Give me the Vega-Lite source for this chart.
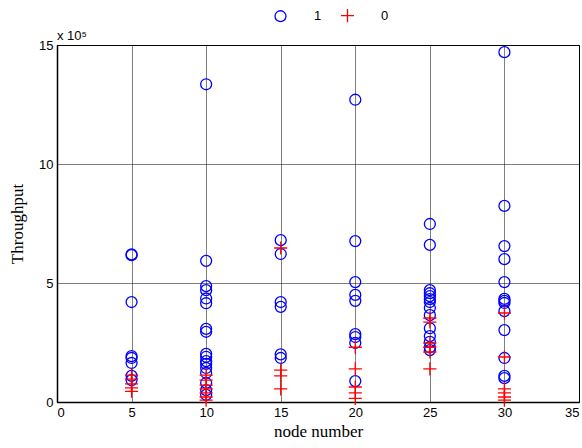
{
  "$schema": "https://vega.github.io/schema/vega-lite/v6.json",
  "width": 522,
  "height": 357,
  "autosize": {"type": "none"},
  "padding": {"left": 57, "top": 45, "right": 3, "bottom": 46},
  "background": "white",
  "title": {"text": "x 10⁵", "anchor": "start", "frame": "group", "font": "Liberation Sans", "fontSize": 13, "fontWeight": "normal", "color": "black", "offset": 1, "dy": 35},
  "config": {
    "view": {"stroke": "black", "strokeWidth": 1},
    "axis": {"domainColor": "black", "domainWidth": 1.5, "gridColor": "black", "gridDash": [1, 1], "gridOpacity": 1, "gridWidth": 1, "ticks": false, "labelFont": "Liberation Sans", "labelFontSize": 13, "labelColor": "black", "titleFont": "Liberation Serif", "titleFontSize": 17, "titleFontWeight": "normal", "titleColor": "black"}
  },
  "data": {"values": [
    {"node": 5, "t": 620000, "type": "1"},
    {"node": 5, "t": 617000, "type": "1"},
    {"node": 5, "t": 420000, "type": "1"},
    {"node": 5, "t": 193000, "type": "1"},
    {"node": 5, "t": 185000, "type": "1"},
    {"node": 5, "t": 164000, "type": "1"},
    {"node": 5, "t": 110000, "type": "1"},
    {"node": 5, "t": 92000, "type": "1"},
    {"node": 5, "t": 113000, "type": "0"},
    {"node": 5, "t": 96000, "type": "0"},
    {"node": 5, "t": 76000, "type": "0"},
    {"node": 5, "t": 59000, "type": "0"},
    {"node": 5, "t": 45000, "type": "0"},
    {"node": 10, "t": 1335000, "type": "1"},
    {"node": 10, "t": 593000, "type": "1"},
    {"node": 10, "t": 487000, "type": "1"},
    {"node": 10, "t": 470000, "type": "1"},
    {"node": 10, "t": 435000, "type": "1"},
    {"node": 10, "t": 415000, "type": "1"},
    {"node": 10, "t": 307000, "type": "1"},
    {"node": 10, "t": 295000, "type": "1"},
    {"node": 10, "t": 202000, "type": "1"},
    {"node": 10, "t": 190000, "type": "1"},
    {"node": 10, "t": 172000, "type": "1"},
    {"node": 10, "t": 160000, "type": "1"},
    {"node": 10, "t": 143000, "type": "1"},
    {"node": 10, "t": 122000, "type": "1"},
    {"node": 10, "t": 80000, "type": "1"},
    {"node": 10, "t": 50000, "type": "1"},
    {"node": 10, "t": 30000, "type": "1"},
    {"node": 10, "t": 113000, "type": "0"},
    {"node": 10, "t": 92000, "type": "0"},
    {"node": 10, "t": 71000, "type": "0"},
    {"node": 10, "t": 55000, "type": "0"},
    {"node": 10, "t": 38000, "type": "0"},
    {"node": 10, "t": 21000, "type": "0"},
    {"node": 10, "t": 8000, "type": "0"},
    {"node": 15, "t": 680000, "type": "1"},
    {"node": 15, "t": 622000, "type": "1"},
    {"node": 15, "t": 420000, "type": "1"},
    {"node": 15, "t": 400000, "type": "1"},
    {"node": 15, "t": 200000, "type": "1"},
    {"node": 15, "t": 185000, "type": "1"},
    {"node": 15, "t": 647000, "type": "0"},
    {"node": 15, "t": 134000, "type": "0"},
    {"node": 15, "t": 110000, "type": "0"},
    {"node": 15, "t": 55000, "type": "0"},
    {"node": 20, "t": 1270000, "type": "1"},
    {"node": 20, "t": 676000, "type": "1"},
    {"node": 20, "t": 504000, "type": "1"},
    {"node": 20, "t": 450000, "type": "1"},
    {"node": 20, "t": 425000, "type": "1"},
    {"node": 20, "t": 285000, "type": "1"},
    {"node": 20, "t": 273000, "type": "1"},
    {"node": 20, "t": 248000, "type": "1"},
    {"node": 20, "t": 88000, "type": "1"},
    {"node": 20, "t": 230000, "type": "0"},
    {"node": 20, "t": 139000, "type": "0"},
    {"node": 20, "t": 63000, "type": "0"},
    {"node": 20, "t": 38000, "type": "0"},
    {"node": 20, "t": 15000, "type": "0"},
    {"node": 25, "t": 748000, "type": "1"},
    {"node": 25, "t": 660000, "type": "1"},
    {"node": 25, "t": 470000, "type": "1"},
    {"node": 25, "t": 457000, "type": "1"},
    {"node": 25, "t": 445000, "type": "1"},
    {"node": 25, "t": 432000, "type": "1"},
    {"node": 25, "t": 420000, "type": "1"},
    {"node": 25, "t": 395000, "type": "1"},
    {"node": 25, "t": 365000, "type": "1"},
    {"node": 25, "t": 310000, "type": "1"},
    {"node": 25, "t": 277000, "type": "1"},
    {"node": 25, "t": 253000, "type": "1"},
    {"node": 25, "t": 230000, "type": "1"},
    {"node": 25, "t": 218000, "type": "1"},
    {"node": 25, "t": 353000, "type": "0"},
    {"node": 25, "t": 336000, "type": "0"},
    {"node": 25, "t": 248000, "type": "0"},
    {"node": 25, "t": 230000, "type": "0"},
    {"node": 25, "t": 210000, "type": "0"},
    {"node": 25, "t": 139000, "type": "0"},
    {"node": 30, "t": 1470000, "type": "1"},
    {"node": 30, "t": 824000, "type": "1"},
    {"node": 30, "t": 655000, "type": "1"},
    {"node": 30, "t": 600000, "type": "1"},
    {"node": 30, "t": 504000, "type": "1"},
    {"node": 30, "t": 433000, "type": "1"},
    {"node": 30, "t": 425000, "type": "1"},
    {"node": 30, "t": 416000, "type": "1"},
    {"node": 30, "t": 382000, "type": "1"},
    {"node": 30, "t": 302000, "type": "1"},
    {"node": 30, "t": 185000, "type": "1"},
    {"node": 30, "t": 110000, "type": "1"},
    {"node": 30, "t": 100000, "type": "1"},
    {"node": 30, "t": 374000, "type": "0"},
    {"node": 30, "t": 189000, "type": "0"},
    {"node": 30, "t": 55000, "type": "0"},
    {"node": 30, "t": 38000, "type": "0"},
    {"node": 30, "t": 21000, "type": "0"},
    {"node": 30, "t": 8000, "type": "0"}
  ]},
  "mark": {"type": "point", "filled": false, "strokeWidth": 1.3, "size": 120, "opacity": 1},
  "encoding": {
    "x": {"field": "node", "type": "quantitative", "title": "node number", "scale": {"domain": [0, 35], "nice": false, "zero": false}, "axis": {"values": [0, 5, 10, 15, 20, 25, 30, 35], "labelPadding": 4, "titlePadding": 4}},
    "y": {"field": "t", "type": "quantitative", "title": "Throughput", "scale": {"domain": [0, 1500000], "nice": false}, "axis": {"values": [0, 500000, 1000000, 1500000], "labelExpr": "datum.value / 100000", "labelPadding": 4, "titlePadding": 12}},
    "color": {"field": "type", "type": "nominal", "sort": ["1", "0"], "scale": {"domain": ["1", "0"], "range": ["#0000ff", "#ff0000"]},
      "legend": {"title": null, "orient": "none", "direction": "horizontal", "legendX": 217, "legendY": -36, "labelFont": "Liberation Sans", "labelFontSize": 13, "labelColor": "black", "labelOffset": 27, "columnPadding": 16, "symbolSize": 120, "symbolStrokeWidth": 1.3, "symbolFillColor": "transparent"}},
    "shape": {"field": "type", "type": "nominal", "sort": ["1", "0"], "scale": {"domain": ["1", "0"], "range": ["circle", "M-1.2,0H1.2M0,-1.2V1.2"]},
      "legend": {"title": null, "orient": "none", "direction": "horizontal", "legendX": 217, "legendY": -36, "labelFont": "Liberation Sans", "labelFontSize": 13, "labelColor": "black", "labelOffset": 27, "columnPadding": 16, "symbolSize": 120, "symbolStrokeWidth": 1.3, "symbolFillColor": "transparent"}},
    "order": {"field": "type", "type": "nominal", "sort": "descending"}
  }
}
